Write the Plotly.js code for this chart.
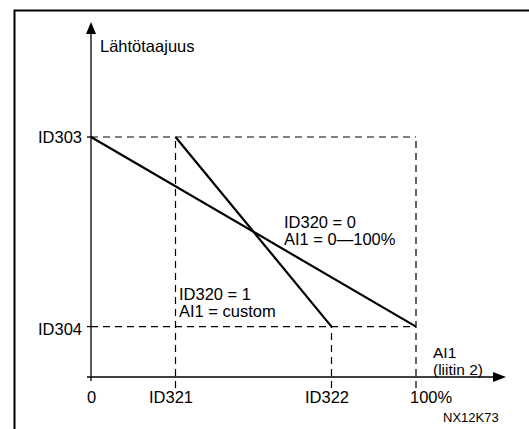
<!DOCTYPE html>
<html>
<head>
<meta charset="utf-8">
<script src="https://cdn.plot.ly/plotly-3.0.1.min.js"></script>
<style>
  html, body { margin: 0; padding: 0; background: #fff; }
  #chart { width: 529px; height: 429px; }
</style>
</head>
<body>
<div id="chart"></div>
<script>
// Output frequency as a function of analogue input AI1 (parameter ID320 scaling)

// Axis ticks
const aiTickVals = [0, 26, 74, 100];
const aiTickText = ['0', 'ID321', 'ID322', '100%'];
const freqTickVals = [21, 100];
const freqTickText = ['ID304', 'ID303'];

// ID320 = 0: AI1 0–100 % maps ID303 → ID304
const fullRangeX = [0, 100];
const fullRangeY = [100, 21];

// ID320 = 1: custom AI1 range ID321 → ID322
const customRangeX = [26, 74];
const customRangeY = [100, 21];

const W = 529, H = 429;
const FONT = 'Liberation Sans, Arial, Helvetica, sans-serif';
const xRange = [-28, 134.77];
const yRange = [-21.67, 157.08];

// pixel → data-unit offsets
const dx = p => p * (xRange[1] - xRange[0]) / W;
const dy = p => p * (yRange[1] - yRange[0]) / H;
// pixel → paper coordinates
const ax = p => p / W;
const ay = p => 1 - p / H;

const [ID304, ID303] = freqTickVals;
const [, ID321, ID322, FULL] = aiTickVals;

const guide = { color: '#000', width: 1.2, dash: '7px,5px' };
const axisLine = { color: '#000', width: 1.3 };
const below = -dy(11);

const shapes = [
  // frame
  { type: 'path', xref: 'paper', yref: 'paper',
    path: `M ${ax(14.5)},${ay(445)} L ${ax(14.5)},${ay(10.5)} L ${ax(545)},${ay(10.5)}`,
    line: { color: '#000', width: 2 } },

  // dashed guides
  { type: 'line', x0: 0, x1: FULL, y0: ID303, y1: ID303, line: guide },
  { type: 'line', x0: 0, x1: FULL, y0: ID304, y1: ID304, line: guide },
  { type: 'line', x0: ID321, x1: ID321, y0: below, y1: ID303, line: guide },
  { type: 'line', x0: ID322, x1: ID322, y0: below, y1: ID304, line: guide },
  { type: 'line', x0: FULL, x1: FULL, y0: below, y1: ID303, line: guide },

  // axes
  { type: 'line', x0: 0, x1: 0, y0: -dy(4), y1: dy(377 - 30), line: axisLine },
  { type: 'line', x0: -dx(4), x1: dx(497 - 91), y0: 0, y1: 0, line: axisLine },
  ...freqTickVals.map(v => ({ type: 'line', x0: -dx(4), x1: 0, y0: v, y1: v, line: axisLine })),

  // arrow heads
  { type: 'path', fillcolor: '#000', line: { width: 0 },
    path: `M 0,${dy(377 - 22)} L ${-dx(5)},${dy(377 - 34)} L ${dx(5)},${dy(377 - 34)} Z` },
  { type: 'path', fillcolor: '#000', line: { width: 0 },
    path: `M ${dx(506 - 91)},0 L ${dx(493 - 91)},${dy(5)} L ${dx(493 - 91)},${-dy(5)} Z` }
];

const txt = (size) => ({ family: FONT, size: size, color: '#000' });

const aiLabelShift = [0, -5, -5, 15];
const annotations = [];
aiTickVals.forEach((v, i) => annotations.push({
  x: v, y: 0, xref: 'x', yref: 'y', text: aiTickText[i], showarrow: false,
  xanchor: 'center', yanchor: 'middle', xshift: aiLabelShift[i], yshift: -20,
  font: txt(16.5)
}));
const freqLabelShift = [-2, 0];
freqTickVals.forEach((v, i) => annotations.push({
  x: 0, y: v, xref: 'x', yref: 'y', text: freqTickText[i], showarrow: false,
  xanchor: 'right', yanchor: 'middle', xshift: -7, yshift: freqLabelShift[i],
  font: txt(16.5)
}));

function label(text, left, cy, size) {
  annotations.push({
    x: ax(left - 2), y: ay(cy), xref: 'paper', yref: 'paper', text: text,
    showarrow: false, xanchor: 'left', yanchor: 'middle', align: 'left',
    font: txt(size)
  });
}
label('Lähtötaajuus', 100, 46, 16.5);
label('ID320 = 0', 284, 222, 16.5);
label('AI1 = 0—100%', 284, 239, 16.5);
label('ID320 = 1', 179, 294, 16.5);
label('AI1 = custom', 179, 311, 16.5);
label('AI1', 433, 352, 15.5);
label('(liitin 2)', 433, 369, 15.5);
label('NX12K73', 443, 417, 13);

const lineStyle = { color: '#000', width: 2.2 };
const data = [
  { type: 'scatter', mode: 'lines', x: fullRangeX, y: fullRangeY, line: lineStyle,
    name: 'ID320 = 0', hoverinfo: 'skip', showlegend: false },
  { type: 'scatter', mode: 'lines', x: customRangeX, y: customRangeY, line: lineStyle,
    name: 'ID320 = 1', hoverinfo: 'skip', showlegend: false }
];

const layout = {
  width: W, height: H, autosize: false,
  margin: { l: 0, r: 0, t: 0, b: 0, pad: 0 },
  paper_bgcolor: '#fff', plot_bgcolor: '#fff',
  xaxis: { range: xRange, visible: false, fixedrange: true },
  yaxis: { range: yRange, visible: false, fixedrange: true },
  shapes: shapes,
  annotations: annotations,
  font: { family: FONT }
};

Plotly.newPlot('chart', data, layout, { staticPlot: true, displayModeBar: false });
</script>
</body>
</html>
